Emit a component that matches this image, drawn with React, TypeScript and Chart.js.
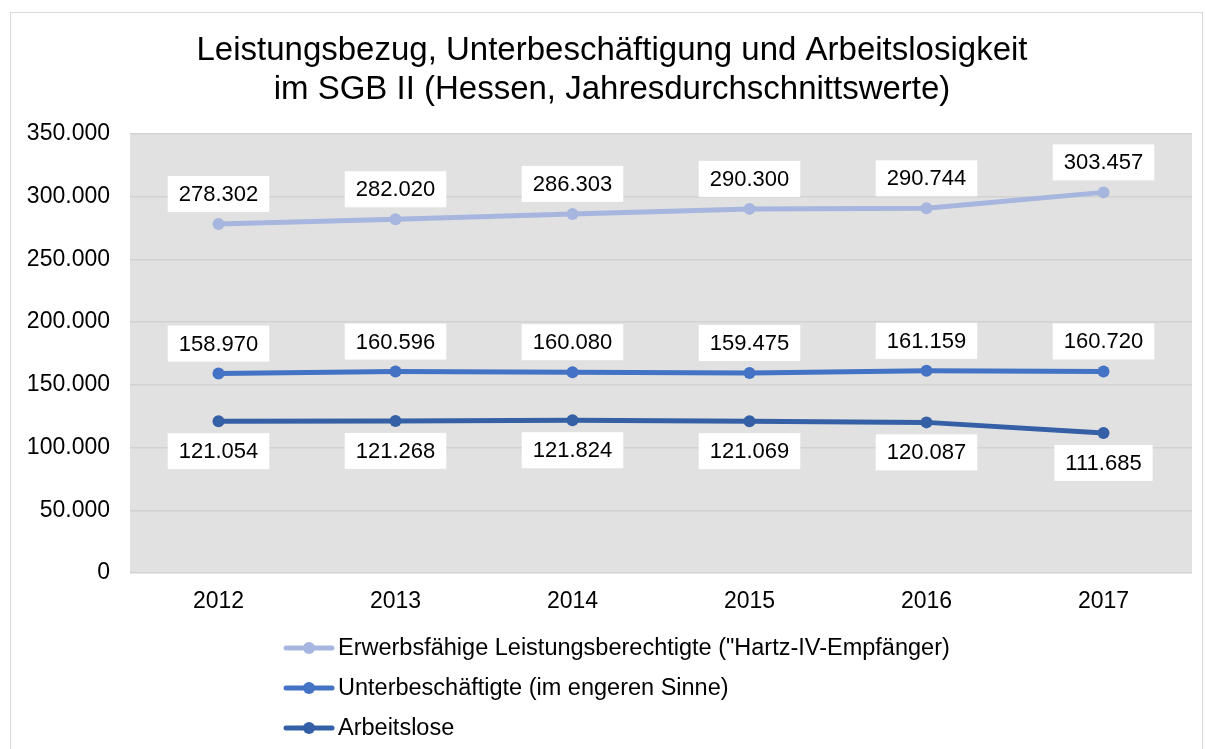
import React, { useEffect, useRef } from "react";
import { Chart, registerables } from "chart.js";

Chart.register(...registerables);

const years = ["2012", "2013", "2014", "2015", "2016", "2017"];
const hartzIV = [278302, 282020, 286303, 290300, 290744, 303457];
const unterbeschaeftigte = [158970, 160596, 160080, 159475, 161159, 160720];
const arbeitslose = [121054, 121268, 121824, 121069, 120087, 111685];
const seriesNames = [
  'Erwerbsfähige Leistungsberechtigte ("Hartz-IV-Empfänger)',
  "Unterbeschäftigte (im engeren Sinne)",
  "Arbeitslose",
];
const seriesColors = ["#a7b6de", "#4472c4", "#3560a6"];
const labelSides = ["above", "above", "below"];
const titleLines = [
  "Leistungsbezug, Unterbeschäftigung und Arbeitslosigkeit",
  "im SGB II (Hessen, Jahresdurchschnittswerte)",
];
const yMin = 0;
const yMax = 350000;
const yStep = 50000;

const FONT = "'Liberation Sans', Arial, sans-serif";

const fmt = (n: number) => String(n).replace(/\B(?=(\d{3})+(?!\d))/g, ".");

const decorPlugin = {
  id: "decor",
  beforeDraw(chart: any) {
    const { ctx, chartArea, width, height } = chart;
    ctx.save();
    ctx.fillStyle = "#ffffff";
    ctx.fillRect(0, 0, width, height);
    ctx.strokeStyle = "#d9d9d9";
    ctx.lineWidth = 1;
    ctx.strokeRect(10.5, 12.5, width - 13, height);
    ctx.fillStyle = "#e1e1e1";
    ctx.fillRect(chartArea.left, chartArea.top, chartArea.right - chartArea.left, chartArea.bottom - chartArea.top);
    // title
    ctx.fillStyle = "#000";
    ctx.font = `33px ${FONT}`;
    ctx.textAlign = "center";
    ctx.textBaseline = "middle";
    titleLines.forEach((t, i) => ctx.fillText(t, 612, 51 + i * 39));
    ctx.restore();
  },
  afterDatasetsDraw(chart: any) {
    const { ctx } = chart;
    ctx.save();
    ctx.font = `22px ${FONT}`;
    ctx.textAlign = "center";
    ctx.textBaseline = "middle";
    chart.data.datasets.forEach((ds: any, di: number) => {
      const meta = chart.getDatasetMeta(di);
      meta.data.forEach((pt: any, i: number) => {
        const txt = fmt(ds.data[i]);
        const w = ctx.measureText(txt).width + 22;
        const h = 36;
        const cy = labelSides[di] === "above" ? pt.y - 30 : pt.y + 30;
        ctx.fillStyle = "#ffffff";
        ctx.fillRect(pt.x - w / 2, cy - h / 2, w, h);
        ctx.fillStyle = "#000";
        ctx.fillText(txt, pt.x, cy + 1);
      });
    });
    // legend
    ctx.textAlign = "left";
    chart.data.datasets.forEach((ds: any, di: number) => {
      const y = 648 + di * 40;
      ctx.strokeStyle = ds.borderColor;
      ctx.lineWidth = 5;
      ctx.lineCap = "round";
      ctx.beginPath();
      ctx.moveTo(286, y);
      ctx.lineTo(332, y);
      ctx.stroke();
      ctx.fillStyle = ds.borderColor;
      ctx.beginPath();
      ctx.arc(309, y, 6, 0, Math.PI * 2);
      ctx.fill();
      ctx.fillStyle = "#000";
      ctx.font = `23.5px ${FONT}`;
      ctx.fillText(ds.label, 338, y + 1);
    });
    ctx.restore();
  },
};

export default function App() {
  const ref = useRef<HTMLCanvasElement | null>(null);
  useEffect(() => {
    if (!ref.current) return;
    const series = [hartzIV, unterbeschaeftigte, arbeitslose];
    const chart = new Chart(ref.current, {
      type: "line",
      data: {
        labels: years,
        datasets: series.map((d, i) => ({
          label: seriesNames[i],
          data: d,
          borderColor: seriesColors[i],
          backgroundColor: seriesColors[i],
          pointBackgroundColor: seriesColors[i],
          pointBorderColor: seriesColors[i],
          borderWidth: 5,
          pointRadius: 6,
          pointBorderWidth: 0,
          tension: 0,
          fill: false,
        })),
      },
      options: {
        responsive: false,
        animation: false,
        layout: { padding: { top: 134, right: 13, left: 0, bottom: 0 } },
        plugins: {
          legend: { display: false },
          title: { display: false },
          tooltip: { enabled: false },
        },
        scales: {
          x: {
            offset: true,
            grid: { display: false, drawTicks: false },
            border: { display: false },
            ticks: { font: { family: FONT, size: 23 }, color: "#000", padding: 15 },
            afterFit: (s: any) => {
              s.height = 176;
            },
          },
          y: {
            min: yMin,
            max: yMax,
            grid: { color: "#d2d2d2", lineWidth: 1.5, drawTicks: false },
            border: { display: false },
            ticks: {
              stepSize: yStep,
              font: { family: FONT, size: 23 },
              color: "#000",
              padding: 20,
              callback: (v: any) => fmt(Number(v)),
            },
            afterFit: (s: any) => {
              s.width = 130;
            },
          },
        },
      },
      plugins: [decorPlugin],
    });
    return () => chart.destroy();
  }, []);
  return (
    <canvas
      ref={ref}
      width={1205}
      height={749}
      style={{ position: "absolute", left: 0, top: 0, display: "block" }}
    />
  );
}
